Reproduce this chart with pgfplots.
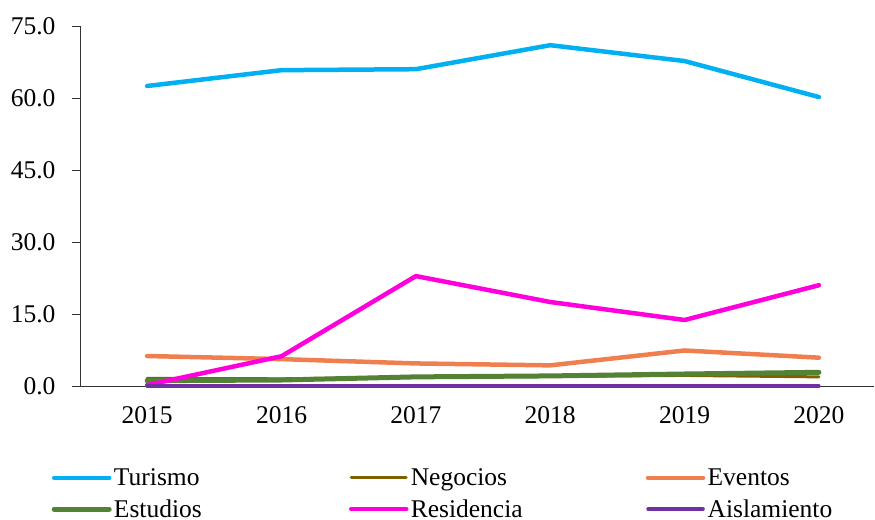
\documentclass[border=0pt]{standalone}
\usepackage{pgfplots}
\pgfplotsset{compat=1.18}
\usepackage{fontspec}
\setmainfont{Liberation Serif}
\definecolor{cTur}{HTML}{00B0F0}
\definecolor{cNeg}{HTML}{7F6000}
\definecolor{cEve}{HTML}{F07F50}
\definecolor{cEst}{HTML}{548235}
\definecolor{cRes}{HTML}{FF00DD}
\definecolor{cAis}{HTML}{7030A0}
\begin{document}
\begin{tikzpicture}
\begin{axis}[
  scale only axis,
  width=794bp, height=360bp,
  xmin=-0.5, xmax=5.41,
  ymin=0, ymax=75,
  axis lines=left,
  axis line style={-, black!80, line width=0.9bp},
  font=\fontsize{25.5bp}{30bp}\selectfont,
  xtick={0,1,2,3,4,5},
  xticklabels={2015,2016,2017,2018,2019,2020},
  major x tick style={draw=none},
  x tick label style={yshift=-9bp},
  extra x ticks={-0.5,0.5,1.5,2.5,3.5,4.5},
  extra x tick labels={},
  extra x tick style={major tick length=8bp, tick style={black!80, line width=0.9bp}, tick align=outside},
  ytick={0,15,30,45,60,75},
  y tick style={black!80, line width=0.9bp},
  tick align=outside,
  major tick length=8bp,
  y tick label style={xshift=-13bp},
  yticklabel style={/pgf/number format/.cd, fixed, fixed zerofill, precision=1, assume math mode=true},
  clip=false,
  legend columns=3,
  legend cell align=left,
  legend image code/.code={\draw[#1] (0bp,0bp) -- (55bp,0bp);},
  legend style={draw=none, fill=none, inner sep=0pt, row sep=8.5bp,
    at={(axis description cs:0,0)}, anchor=north west, xshift=-28.5bp, yshift=-80.5bp,
    nodes={inner sep=2bp},
    /tikz/every odd column/.append style={column sep=0.3bp},
    /tikz/every even column/.append style={column sep=0bp}},
  every axis plot/.append style={line cap=round, line join=round},
]
\addplot[color=cTur, line width=4.5bp] coordinates {(0,62.5) (1,65.8) (2,66.0) (3,71.0) (4,67.7) (5,60.2)};
\addlegendentry{\makebox[233bp][l]{Turismo}}
\addplot[color=cNeg, line width=3bp] coordinates {(0,1.6) (1,1.5) (2,1.8) (3,2.0) (4,2.2) (5,1.9)};
\addlegendentry{\makebox[233bp][l]{Negocios}}
\addplot[color=cEve, line width=4.5bp] coordinates {(0,6.25) (1,5.6) (2,4.7) (3,4.3) (4,7.4) (5,5.9)};
\addlegendentry{Eventos}
\addplot[color=cEst, line width=5bp] coordinates {(0,1.1) (1,1.25) (2,1.9) (3,2.1) (4,2.5) (5,2.85)};
\addlegendentry{\makebox[233bp][l]{Estudios}}
\addplot[color=cRes, line width=4.5bp] coordinates {(0,0.2) (1,6.2) (2,22.9) (3,17.5) (4,13.75) (5,21.0)};
\addlegendentry{\makebox[233bp][l]{Residencia}}
\addplot[color=cAis, line width=3.5bp] coordinates {(0,0) (1,0) (2,0) (3,0) (4,0) (5,0)};
\addlegendentry{Aislamiento}
\end{axis}
\pgfresetboundingbox
\path[use as bounding box] ([xshift=-80bp,yshift=-134bp]current axis.south west) rectangle ([xshift=1bp,yshift=26bp]current axis.north east);
\end{tikzpicture}
\end{document}
